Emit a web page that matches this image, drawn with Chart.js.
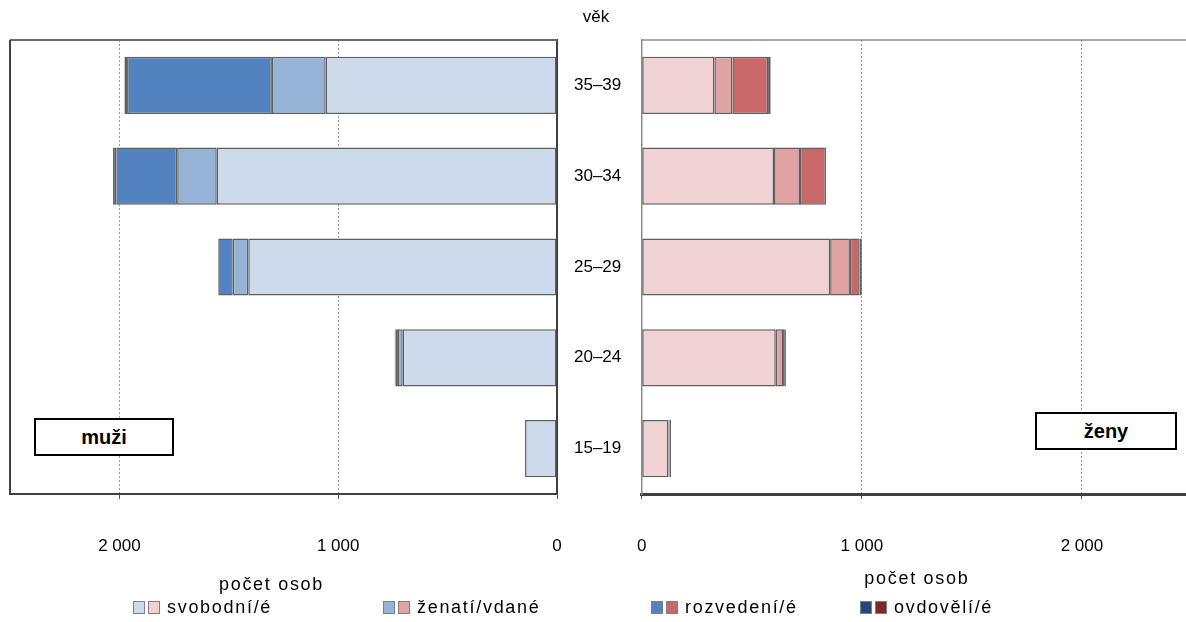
<!DOCTYPE html>
<html lang="cs">
<head>
<meta charset="utf-8">
<title>Obyvatelstvo podle rodinného stavu a věku</title>
<script src="https://cdn.jsdelivr.net/npm/chart.js@4.4.1/dist/chart.umd.min.js"></script>
<style>
  html, body { margin: 0; padding: 0; background: #fff; overflow: hidden; }
  body { width: 1186px; height: 622px; position: relative; font-family: "Liberation Sans", Arial, sans-serif; }
  .chart-box { position: absolute; top: 0; height: 610px; }
  #box-men   { left: 0;     width: 641px; }
  #box-women { left: 600px; width: 600px; }
  .age-title { position: absolute; left: 566px; width: 60px; top: 7px; text-align: center; font-size: 17px; color: #000; }
  .sex-label {
    position: absolute; box-sizing: border-box; border: 2px solid #000; background: #fff;
    font-weight: bold; font-size: 20px; text-align: center; line-height: 34px; color: #000;
  }
  #lbl-men   { left: 34px;   top: 418px; width: 140px; height: 38px; }
  #lbl-women { left: 1035px; top: 412px; width: 142px; height: 38px; }
  .legend-item { position: absolute; top: 599px; height: 16px; display: flex; align-items: center; white-space: nowrap; }
  .legend-item .sw { width: 12px; height: 13px; box-sizing: border-box; border: 1.5px solid #7f7f7f; margin-right: 3px; }
  .legend-item .txt {
    margin-left: 4px; font-family: "Liberation Sans Narrow", "Liberation Sans", Arial, sans-serif;
    font-size: 18px; letter-spacing: 1.7px; color: #000;
  }
</style>
</head>
<body>
<div class="chart-box" id="box-men"><canvas id="chart-men"></canvas></div>
<div class="chart-box" id="box-women"><canvas id="chart-women"></canvas></div>
<div class="age-title">věk</div>
<div class="sex-label" id="lbl-men">muži</div>
<div class="sex-label" id="lbl-women">ženy</div>
<div id="legend"></div>

<script>
(function () {
  'use strict';

  // ── Data ────────────────────────────────────────────────────────────── //
  var ageGroups     = ['35–39', '30–34', '25–29', '20–24', '15–19'];
  var statusLabels  = ['svobodní/é', 'ženatí/vdané', 'rozvedení/é', 'ovdovělí/é'];

  var menSingle     = [1057, 1555, 1411, 705, 146];
  var menMarried    = [246, 181, 71, 22, 1];
  var menDivorced   = [662, 278, 66, 12, 0];
  var menWidowed    = [12, 15, 2, 3, 0];

  var womenSingle   = [330, 601, 856, 609, 121];
  var womenMarried  = [82, 118, 90, 33, 4];
  var womenDivorced = [162, 118, 44, 5, 3];
  var womenWidowed  = [12, 1, 10, 8, 5];

  var xTickValues   = [0, 1000, 2000];
  var xMax          = 2500;
  var xTitle        = 'počet osob';

  var menColors     = ['#CDDAEB', '#95B3D7', '#5283C0', '#22477A'];
  var womenColors   = ['#F0D2D4', '#DFA3A4', '#C96868', '#7A2A2A'];

  var NARROW  = '"Liberation Sans Narrow", "Liberation Sans", Arial, sans-serif';
  var REGULAR = '"Liberation Sans", Arial, sans-serif';

  // ── Frame lines + spaced axis title ─────────────────────────────────── //
  var framePlugin = {
    id: 'frame',
    afterDraw: function (chart, args, opts) {
      var a = chart.chartArea, ctx = chart.ctx;
      ctx.save();
      if (opts.top) {
        ctx.strokeStyle = opts.top; ctx.lineWidth = opts.topWidth || 1;
        ctx.beginPath(); ctx.moveTo(a.left, a.top); ctx.lineTo(a.right, a.top); ctx.stroke();
      }
      if (opts.left) {
        ctx.strokeStyle = opts.left; ctx.lineWidth = opts.leftWidth || 1;
        ctx.beginPath(); ctx.moveTo(a.left, a.top); ctx.lineTo(a.left, a.bottom); ctx.stroke();
      }
      // axis title, letter-spaced like the original
      var sx = chart.scales.x;
      ctx.font = '18px ' + NARROW;
      ctx.fillStyle = '#000';
      ctx.textAlign = 'center';
      ctx.textBaseline = 'middle';
      if ('letterSpacing' in ctx) ctx.letterSpacing = '1.7px';
      ctx.fillText(xTitle, (sx.left + sx.right) / 2 + (opts.titleShift || 0), sx.bottom - opts.titleOffset);
      ctx.restore();
    }
  };

  function fmt(v) {
    return v >= 1000 ? Math.floor(v / 1000) + ' ' + String(v % 1000).padStart(3, '0') : String(v);
  }

  function makeDatasets(series, colors) {
    return series.map(function (values, i) {
      return {
        label: statusLabels[i],
        data: values,
        backgroundColor: colors[i],
        borderColor: '#5f5f5f',
        borderWidth: 1.5,
        borderSkipped: false,
        categoryPercentage: 1.0,
        barPercentage: 0.63
      };
    });
  }

  function xScale(reverse, axisWidth) {
    return {
      type: 'linear',
      stacked: true,
      reverse: reverse,
      min: 0,
      max: xMax,
      afterBuildTicks: function (s) {
        s.ticks = xTickValues.map(function (v) { return { value: v }; });
      },
      afterFit: function (s) { s.height = 116; },
      ticks: {
        padding: 37,
        color: '#000',
        font: { family: NARROW, size: 17 },
        maxRotation: 0,
        callback: function (v) { return fmt(v); }
      },
      grid: {
        color: '#9a9a9a',
        lineWidth: 1,
        tickLength: 5,
        tickColor: '#595959',
        tickWidth: 1
      },
      border: { display: true, color: '#404040', width: axisWidth, dash: [2, 2] }
    };
  }

  // ── Men (left, reversed) ────────────────────────────────────────────── //
  new Chart(document.getElementById('chart-men').getContext('2d'), {
    type: 'bar',
    data: {
      labels: ageGroups,
      datasets: makeDatasets([menSingle, menMarried, menDivorced, menWidowed], menColors)
    },
    plugins: [framePlugin],
    options: {
      indexAxis: 'y',
      responsive: true,
      maintainAspectRatio: false,
      animation: false,
      layout: { padding: { left: 10, top: 40, right: 0, bottom: 0 } },
      plugins: {
        legend: { display: false },
        tooltip: { enabled: false },
        frame: { top: '#6a6a6a', topWidth: 2, left: '#404040', leftWidth: 2, titleOffset: 25, titleShift: -12 }
      },
      scales: {
        x: xScale(true, 2),
        y: {
          position: 'right',
          stacked: true,
          afterFit: function (s) { s.width = 84; },
          grid: { display: false },
          border: { display: true, color: '#404040', width: 2 },
          ticks: { padding: 9, color: '#000', font: { family: REGULAR, size: 17 } }
        }
      }
    }
  });

  // ── Women (right) ───────────────────────────────────────────────────── //
  new Chart(document.getElementById('chart-women').getContext('2d'), {
    type: 'bar',
    data: {
      labels: ageGroups,
      datasets: makeDatasets([womenSingle, womenMarried, womenDivorced, womenWidowed], womenColors)
    },
    plugins: [framePlugin],
    options: {
      indexAxis: 'y',
      responsive: true,
      maintainAspectRatio: false,
      animation: false,
      layout: { padding: { left: 41, top: 40, right: 8, bottom: 0 } },
      plugins: {
        legend: { display: false },
        tooltip: { enabled: false },
        frame: { top: '#8c8c8c', topWidth: 1.5, titleOffset: 31 }
      },
      scales: {
        x: xScale(false, 3),
        y: {
          position: 'left',
          stacked: true,
          afterFit: function (s) { s.width = 0; },
          grid: { display: false },
          border: { display: true, color: '#8c8c8c', width: 1.5 },
          ticks: { display: false }
        }
      }
    }
  });

  // ── Legend (double swatches: men + women) ───────────────────────────── //
  var legendLefts = [133, 383, 651, 860];
  var legendEl = document.getElementById('legend');
  statusLabels.forEach(function (label, i) {
    var item = document.createElement('div');
    item.className = 'legend-item';
    item.style.left = legendLefts[i] + 'px';
    item.innerHTML =
      '<span class="sw" style="background:' + menColors[i] + '"></span>' +
      '<span class="sw" style="background:' + womenColors[i] + '"></span>' +
      '<span class="txt">' + label + '</span>';
    legendEl.appendChild(item);
  });
})();
</script>
</body>
</html>
